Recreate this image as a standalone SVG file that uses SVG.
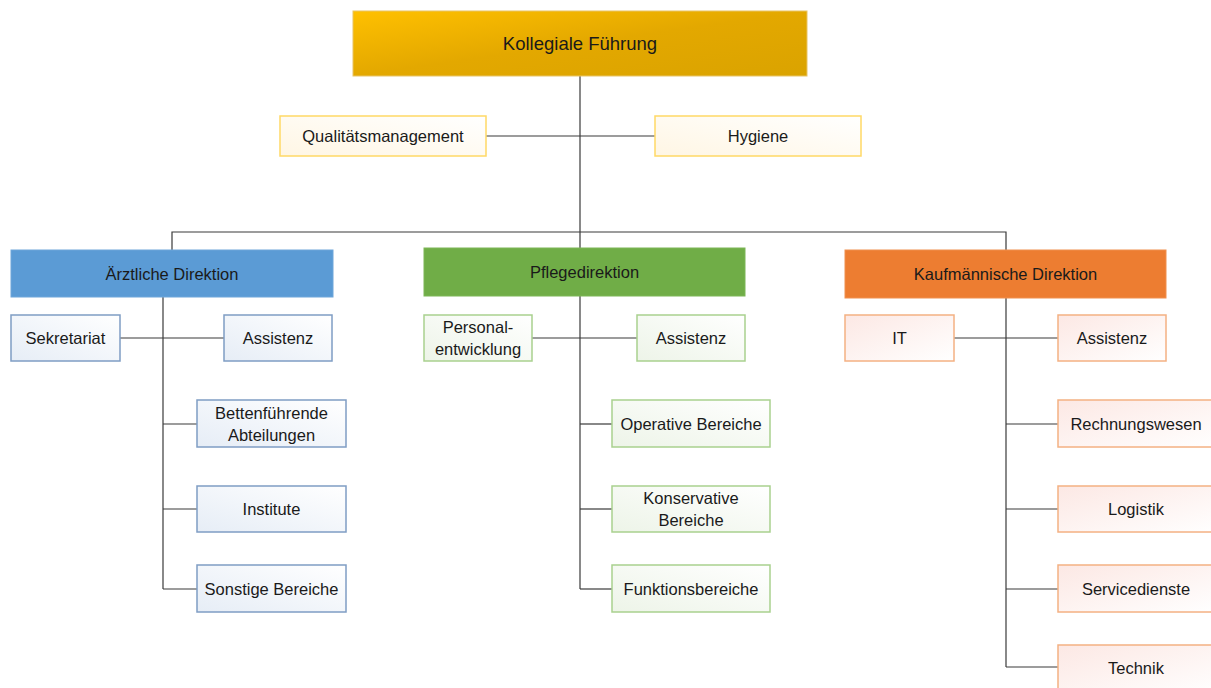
<svg xmlns="http://www.w3.org/2000/svg" width="1211" height="688" viewBox="0 0 1211 688">
<defs>
<linearGradient id="gTop" x1="0" y1="0" x2="1" y2="1"><stop offset="0" stop-color="#FFC000"/><stop offset="0.5" stop-color="#E3A800"/><stop offset="1" stop-color="#DAA300"/></linearGradient>
<linearGradient id="gY" x1="1" y1="0" x2="0" y2="1"><stop offset="0" stop-color="#FFFFFF"/><stop offset="1" stop-color="#FFF6E4"/></linearGradient>
<linearGradient id="gB" x1="1" y1="0" x2="0" y2="1"><stop offset="0" stop-color="#FFFFFF"/><stop offset="1" stop-color="#E6EDF6"/></linearGradient>
<linearGradient id="gG" x1="1" y1="0" x2="0" y2="1"><stop offset="0" stop-color="#FFFFFF"/><stop offset="1" stop-color="#EDF4E8"/></linearGradient>
<linearGradient id="gO" x1="1" y1="1" x2="0" y2="0"><stop offset="0" stop-color="#FFFFFF"/><stop offset="1" stop-color="#FCE8E4"/></linearGradient>
</defs>
<style>
text{font-family:"Liberation Sans",Arial,sans-serif;font-size:16.5px;fill:#1a1a1a;text-anchor:middle;dominant-baseline:central}
.big{font-size:18.5px}
.y{fill:url(#gY);stroke:#FFD966;stroke-width:1.5}
.b{fill:url(#gB);stroke:#7F9DC4;stroke-width:1.5}
.g{fill:url(#gG);stroke:#A9D18E;stroke-width:1.5}
.o{fill:url(#gO);stroke:#F4B183;stroke-width:1.5}
#connectors line,#connectors polyline{stroke:#3a3a3a;stroke-width:1.2;fill:none}
</style>
<g id="connectors">
<line x1="580" y1="76" x2="580" y2="248"/>
<line x1="486" y1="136" x2="655" y2="136"/>
<polyline points="172,250 172,232 1006,232 1006,250"/>
<line x1="163" y1="297" x2="163" y2="589"/>
<line x1="120" y1="338" x2="224" y2="338"/>
<line x1="163" y1="424" x2="197" y2="424"/>
<line x1="163" y1="509" x2="197" y2="509"/>
<line x1="163" y1="589" x2="197" y2="589"/>
<line x1="580" y1="296" x2="580" y2="589"/>
<line x1="532" y1="338" x2="637" y2="338"/>
<line x1="580" y1="424" x2="612" y2="424"/>
<line x1="580" y1="509" x2="612" y2="509"/>
<line x1="580" y1="589" x2="612" y2="589"/>
<line x1="1006" y1="298" x2="1006" y2="667"/>
<line x1="954" y1="338" x2="1058" y2="338"/>
<line x1="1006" y1="424" x2="1058" y2="424"/>
<line x1="1006" y1="509" x2="1058" y2="509"/>
<line x1="1006" y1="589" x2="1058" y2="589"/>
<line x1="1006" y1="667" x2="1058" y2="667"/>
</g>
<g id="kollegiale"><rect x="353" y="11" width="454" height="65" fill="url(#gTop)" stroke="#E8C466" stroke-width="1"/><text class="big" x="580" y="43.5">Kollegiale Führung</text></g>
<g id="qm"><rect class="y" x="280" y="116" width="206" height="40"/><text x="383" y="136">Qualitätsmanagement</text></g>
<g id="hygiene"><rect class="y" x="655" y="116" width="206" height="40"/><text x="758" y="136">Hygiene</text></g>

<g id="aerztlich"><rect x="11" y="250" width="322" height="47" fill="#5B9BD5" stroke="#6FA6DA" stroke-width="1"/><text x="172" y="273.5">Ärztliche Direktion</text></g>
<g id="sekretariat"><rect class="b" x="11" y="315" width="109" height="46"/><text x="65.5" y="338">Sekretariat</text></g>
<g id="assistenz1"><rect class="b" x="224" y="315" width="108" height="46"/><text x="278" y="338">Assistenz</text></g>
<g id="betten"><rect class="b" x="197" y="400" width="149" height="47"/><text x="271.5" y="412.5">Bettenführende</text><text x="271.5" y="434.5">Abteilungen</text></g>
<g id="institute"><rect class="b" x="197" y="486" width="149" height="46"/><text x="271.5" y="509">Institute</text></g>
<g id="sonstige"><rect class="b" x="197" y="565" width="149" height="47"/><text x="271.5" y="588.5">Sonstige Bereiche</text></g>

<g id="pflege"><rect x="424" y="248" width="321" height="48" fill="#70AD47" stroke="#7DB656" stroke-width="1"/><text x="584.5" y="272">Pflegedirektion</text></g>
<g id="personal"><rect class="g" x="424" y="315" width="108" height="46"/><text x="478" y="327">Personal-</text><text x="478" y="349">entwicklung</text></g>
<g id="assistenz2"><rect class="g" x="637" y="315" width="108" height="46"/><text x="691" y="338">Assistenz</text></g>
<g id="operative"><rect class="g" x="612" y="400" width="158" height="47"/><text x="691" y="423.5">Operative Bereiche</text></g>
<g id="konservative"><rect class="g" x="612" y="486" width="158" height="46"/><text x="691" y="498">Konservative</text><text x="691" y="520">Bereiche</text></g>
<g id="funktion"><rect class="g" x="612" y="565" width="158" height="47"/><text x="691" y="588.5">Funktionsbereiche</text></g>

<g id="kaufm"><rect x="845" y="250" width="321" height="48" fill="#ED7D31" stroke="#F0904E" stroke-width="1"/><text x="1005.5" y="274">Kaufmännische Direktion</text></g>
<g id="it"><rect class="o" x="845" y="315" width="109" height="46"/><text x="899.5" y="338">IT</text></g>
<g id="assistenz3"><rect class="o" x="1058" y="315" width="108" height="46"/><text x="1112" y="338">Assistenz</text></g>
<g id="rechnung"><rect class="o" x="1058" y="400" width="160" height="47"/><text x="1136" y="423.5">Rechnungswesen</text></g>
<g id="logistik"><rect class="o" x="1058" y="486" width="160" height="46"/><text x="1136" y="509">Logistik</text></g>
<g id="service"><rect class="o" x="1058" y="565" width="160" height="47"/><text x="1136" y="588.5">Servicedienste</text></g>
<g id="technik"><rect class="o" x="1058" y="645" width="160" height="50"/><text x="1136" y="668">Technik</text></g>
</svg>
